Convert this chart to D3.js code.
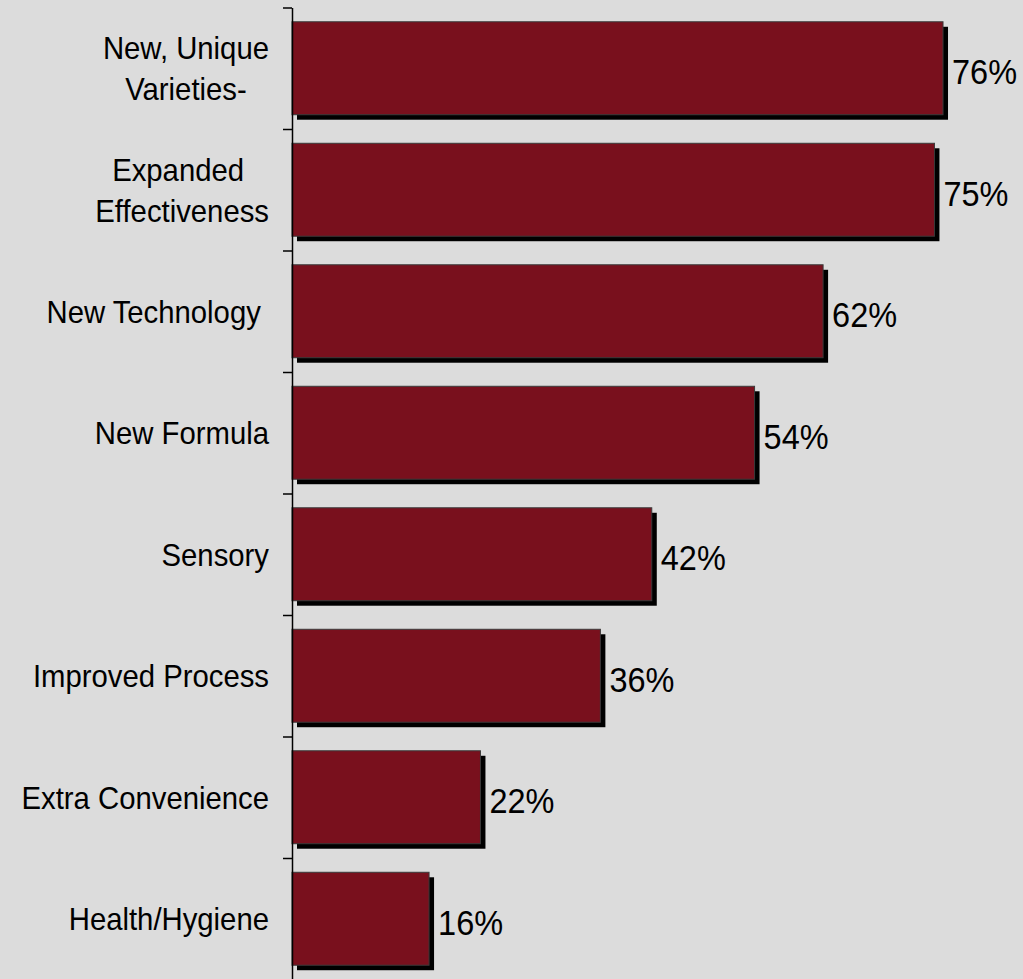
<!DOCTYPE html>
<html>
<head>
<meta charset="utf-8">
<script src="https://cdn.jsdelivr.net/npm/d3@7"></script>
<style>
  html, body { margin: 0; padding: 0; background: #dcdcdc; }
  svg { display: block; }
  text { font-family: "Liberation Sans", Arial, sans-serif; fill: #000; }
</style>
</head>
<body>
<svg id="chart" width="1023" height="979"></svg>
<script>
// Share of new products by type of innovation claim
const categories = [
  ["New, Unique", "Varieties-"],
  ["Expanded ", "Effectiveness"],
  ["New Technology "],
  ["New Formula"],
  ["Sensory"],
  ["Improved Process"],
  ["Extra Convenience"],
  ["Health/Hygiene"]
];
const values = [76, 75, 62, 54, 42, 36, 22, 16];
const valueLabels = ["76%", "75%", "62%", "54%", "42%", "36%", "22%", "16%"];

const W = 1023, H = 979;
const axisX = 292;
const svg = d3.select("#chart");

svg.append("rect").attr("width", W).attr("height", H).attr("fill", "#dcdcdc");

const idx = d3.range(categories.length);

const x = d3.scaleLinear().domain([0, 100]).range([axisX, axisX + 856.6]);

const y = d3.scaleBand()
  .domain(idx)
  .range([7.5, 979.5])
  .paddingInner(0.235)
  .paddingOuter(0.1175);

// band edges for the tick marks between categories
const yEdge = d3.scaleLinear().domain([0, categories.length]).range([7.5, 979.5]);

const shadowOff = 5;

// drop shadows
svg.append("g").selectAll("rect")
  .data(idx)
  .join("rect")
  .attr("x", x(0) + shadowOff)
  .attr("y", i => y(i) + shadowOff)
  .attr("width", i => x(values[i]) - x(0))
  .attr("height", y.bandwidth())
  .attr("fill", "#000");

// bars
svg.append("g").selectAll("rect")
  .data(idx)
  .join("rect")
  .attr("x", x(0))
  .attr("y", i => y(i))
  .attr("width", i => x(values[i]) - x(0))
  .attr("height", y.bandwidth())
  .attr("fill", "#79101d")
  .attr("stroke", "#3a3a3a")
  .attr("stroke-width", 1);

// axis with outward ticks at category boundaries
const axis = d3.axisLeft(yEdge)
  .tickValues(d3.range(categories.length + 1))
  .tickSize(9)
  .tickSizeOuter(0)
  .tickFormat("");
const gAxis = svg.append("g").attr("transform", `translate(${axisX},0)`).call(axis);
gAxis.select(".domain").attr("stroke", "#000").attr("stroke-width", 1.5);
gAxis.selectAll(".tick line").attr("stroke", "#000").attr("stroke-width", 1.5);

// category labels (slightly tall letterforms)
const labelRight = 269;
const fs = 29.3;
const vScale = 1.07;
const lineGap = 41;
const catG = svg.append("g");
idx.forEach(i => {
  const lines = categories[i];
  const cy = y(i) + y.bandwidth() / 2;
  const g = catG.append("g")
    .attr("transform", `translate(0,${cy}) scale(1,${vScale})`);
  const t = g.append("text")
    .attr("font-size", fs)
    .attr("xml:space", "preserve")
    .style("white-space", "pre");
  const spans = lines.map((ln, k) =>
    t.append("tspan")
      .attr("y", (11.5 + (k - (lines.length - 1) / 2) * lineGap) / vScale)
      .text(ln));
  if (lines.length === 1) {
    t.attr("text-anchor", "end");
    spans[0].attr("x", labelRight);
  } else {
    const maxW = d3.max(spans, s => s.node().getComputedTextLength());
    t.attr("text-anchor", "middle");
    spans.forEach(s => s.attr("x", labelRight - maxW / 2));
  }
});

// value labels
svg.append("g").selectAll("text")
  .data(idx)
  .join("text")
  .attr("font-size", 32.5)
  .attr("transform", i => `translate(${x(values[i]) + 9},${y(i) + y.bandwidth() / 2 + 16}) scale(1,1.1)`)
  .text(i => valueLabels[i]);
</script>
</body>
</html>
